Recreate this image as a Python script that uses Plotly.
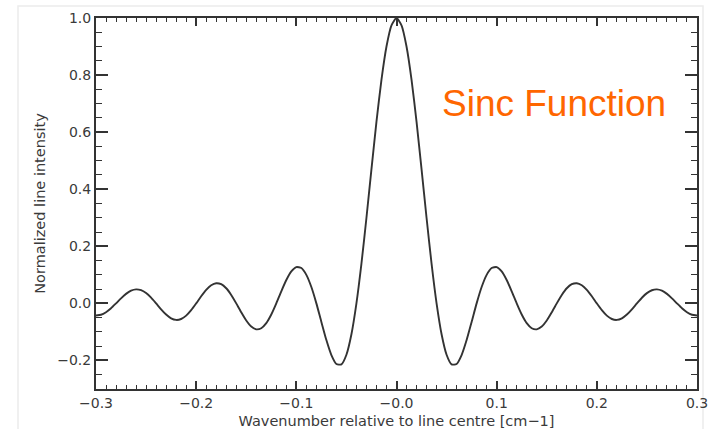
import plotly.graph_objects as go

# Wavenumber offsets from line centre [cm-1], sampled every 0.005
wavenumber = [round(-0.3 + 0.005 * i, 3) for i in range(121)]

# Normalized line intensity (left to right)
intensity_right = [
    1.0, 0.9745, 0.9003, 0.7842, 0.6366, 0.4705, 0.3001, 0.1392, 0.0,
    -0.1083, -0.1801, -0.2139, -0.2122, -0.1810, -0.1286, -0.0650, 0.0,
    0.0573, 0.1000, 0.1238, 0.1273, 0.1120, 0.0818, 0.0424, 0.0,
    -0.0390, -0.0693, -0.0871, -0.0909, -0.0811, -0.0600, -0.0314, 0.0,
    0.0295, 0.0530, 0.0672, 0.0707, 0.0636, 0.0474, 0.0250, 0.0,
    -0.0238, -0.0429, -0.0547, -0.0579, -0.0523, -0.0391, -0.0207, 0.0,
    0.0199, 0.0360, 0.0461, 0.0490, 0.0444, 0.0333, 0.0177, 0.0,
    -0.0171, -0.0310, -0.0399, -0.0424,
]
intensity_left = [
    -0.0424, -0.0399, -0.0310, -0.0171, 0.0,
    0.0177, 0.0333, 0.0444, 0.0490, 0.0461, 0.0360, 0.0199, 0.0,
    -0.0207, -0.0391, -0.0523, -0.0579, -0.0547, -0.0429, -0.0238, 0.0,
    0.0250, 0.0474, 0.0636, 0.0707, 0.0672, 0.0530, 0.0295, 0.0,
    -0.0314, -0.0600, -0.0811, -0.0909, -0.0871, -0.0693, -0.0390, 0.0,
    0.0424, 0.0818, 0.1120, 0.1273, 0.1238, 0.1000, 0.0573, 0.0,
    -0.0650, -0.1286, -0.1810, -0.2122, -0.2139, -0.1801, -0.1083, 0.0,
    0.1392, 0.3001, 0.4705, 0.6366, 0.7842, 0.9003, 0.9745,
]
intensity = intensity_left + intensity_right

x_tick_vals = [-0.3, -0.2, -0.1, 0.0, 0.1, 0.2, 0.3]
x_tick_text = ["\u22120.3", "\u22120.2", "\u22120.1", "\u22120.0", "0.1", "0.2", "0.3"]
y_tick_vals = [-0.2, 0.0, 0.2, 0.4, 0.6, 0.8, 1.0]
y_tick_text = ["\u22120.2", "0.0", "0.2", "0.4", "0.6", "0.8", "1.0"]

ink = "#333333"
label_font = dict(family="DejaVu Sans", size=14, color="#3a3a3a")
title_font = dict(family="DejaVu Sans", size=14.5, color="#3a3a3a")

fig = go.Figure()
fig.add_trace(go.Scatter(
    x=wavenumber, y=intensity, mode="lines",
    line=dict(color=ink, width=1.9, shape="spline", smoothing=0.6),
    hoverinfo="skip", showlegend=False,
))

fig.update_xaxes(
    range=[-0.3, 0.3], tickvals=x_tick_vals, ticktext=x_tick_text,
    ticks="inside", ticklen=8, tickwidth=1.5, tickcolor=ink,
    minor=dict(dtick=0.01, ticks="inside", ticklen=4, tickwidth=1.2, tickcolor=ink),
    showline=True, linewidth=2, linecolor=ink, mirror="ticks",
    showgrid=False, zeroline=False, tickfont=label_font, automargin=False,
    title=dict(text="Wavenumber relative to line centre [cm\u22121]",
               font=title_font, standoff=6),
)
fig.update_yaxes(
    range=[-0.3, 1.0], tickvals=y_tick_vals, ticktext=y_tick_text,
    ticks="inside", ticklen=12, tickwidth=1.5, tickcolor=ink,
    minor=dict(dtick=0.05, ticks="inside", ticklen=6, tickwidth=1.2, tickcolor=ink),
    showline=True, linewidth=2, linecolor=ink, mirror="ticks",
    showgrid=False, zeroline=False, tickfont=label_font, automargin=False,
    title=dict(text="Normalized line intensity", font=title_font, standoff=8),
)

# caption placed in pixel terms relative to the plot area (96..697 x 18..389)
fig.add_annotation(
    xref="x domain", yref="y domain",
    x=(554 - 96) / 601, y=(389 - 103) / 371,
    xanchor="center", yanchor="middle",
    text="Sinc Function", showarrow=False,
    font=dict(family="Liberation Sans", size=37, color="#ff6600"),
)

# light frame around the whole figure
fig.add_shape(type="rect", xref="paper", yref="paper",
              x0=(18 - 96) / 601, x1=(703 - 96) / 601, y0=-2, y1=(389 - 6) / 371,
              line=dict(color="#ececec", width=1.5), layer="below")

fig.update_layout(
    width=721, height=429,
    margin=dict(l=96, r=24, t=18, b=40),
    paper_bgcolor="white", plot_bgcolor="white",
)

fig.write_html("out.html")
